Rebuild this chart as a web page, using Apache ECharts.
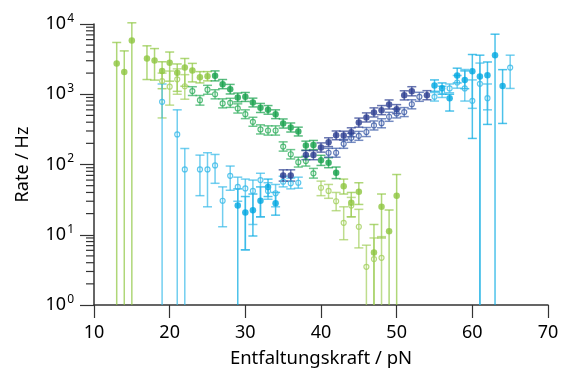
<!DOCTYPE html>
<html>
<head>
<meta charset="utf-8">
<script src="https://cdn.jsdelivr.net/npm/echarts@6/dist/echarts.min.js"></script>
<style>
  html, body { margin: 0; padding: 0; background: #fff; }
  #chart { width: 562px; height: 377px; }
</style>
</head>
<body>
<div id="chart"></div>
<script>
// [force pN, rate Hz, error low, error high]
var lgFilled = [
  [13, 2740, 1, 5460], [14, 2080, 1, 4140], [15, 5820, 1, 10400],
  [17, 3230, 1620, 4890], [18, 3020, 1590, 4470], [19, 2150, 1200, 2900],
  [20, 2800, 1535, 3990], [21, 2020, 1100, 2700], [22, 2400, 1300, 3230],
  [23, 2180, 1500, 2750], [24, 1750, 1450, 2100], [25, 1800, 1550, 2100],
  [43, 49, 38, 62], [44, 28.5, 18, 40], [45, 41, 27, 55],
  [47, 5.6, 1, 14], [48, 25, 9, 38], [49, 11.2, 1, 22.5], [50, 36, 1, 72]
];
var lgOpen = [
  [19, 1540, 460, 2000], [20, 1280, 700, 2140], [21, 1630, 1000, 2300], [22, 1300, 850, 1900],
  [40, 46.7, 36, 58], [41, 42, 33, 52], [42, 30, 22, 40], [43, 14.8, 8.5, 25],
  [44, 26, 18, 34], [45, 13, 6.5, 23], [46, 3.5, 1, 7.1], [47, 4.5, 1, 9], [48, 4.7, 1, 9.4]
];
var mgFilled = [
  [26, 1830, 1550, 2150], [27, 1390, 1200, 1620], [28, 1180, 1010, 1380], [29, 900, 780, 1040],
  [30, 920, 790, 1060], [31, 764, 660, 880], [32, 641, 550, 740], [33, 600, 520, 690],
  [34, 521, 450, 600], [35, 384, 330, 445], [36, 337, 290, 390], [37, 295, 255, 340],
  [38, 187, 160, 215], [39, 190, 163, 220], [40, 115, 97, 135], [41, 106, 90, 125], [42, 76, 63, 92]
];
var mgOpen = [
  [23, 1110, 960, 1280], [24, 823, 700, 960], [25, 1160, 1000, 1340], [26, 1000, 860, 1160],
  [27, 740, 640, 860], [28, 755, 650, 875], [29, 628, 540, 730], [30, 521, 450, 600],
  [31, 405, 350, 470], [32, 316, 272, 367], [33, 305, 262, 355], [34, 305, 262, 355],
  [35, 180, 155, 210], [36, 140, 120, 163], [37, 108, 92, 127], [38, 112, 95, 131], [39, 75, 64, 88]
];
var dbFilled = [
  [35, 70, 58, 84], [36, 70, 58, 84], [38, 136, 117, 158], [39, 136, 117, 158],
  [40, 175, 150, 203], [41, 208, 180, 240], [42, 260, 225, 300], [43, 258, 222, 298],
  [44, 288, 248, 333], [45, 395, 340, 458], [46, 468, 403, 543], [47, 551, 475, 640],
  [48, 594, 512, 690], [49, 716, 617, 830], [50, 614, 530, 712], [51, 965, 830, 1120],
  [52, 1105, 950, 1280], [54, 970, 835, 1125]
];
var dbOpen = [
  [41, 147, 127, 170], [42, 147, 127, 170], [43, 197, 170, 228], [44, 240, 207, 278],
  [45, 256, 221, 296], [46, 290, 250, 336], [47, 360, 310, 417], [48, 387, 333, 448],
  [49, 478, 412, 553], [50, 533, 460, 617], [51, 558, 481, 646], [52, 720, 620, 834],
  [53, 920, 793, 1065]
];
var cyFilled = [
  [29, 26, 1, 45], [30, 20.8, 6.1, 35], [31, 22.4, 9.6, 38], [32, 30.5, 18, 48],
  [33, 48, 35, 62], [34, 28, 19, 40],
  [55, 1335, 1100, 1600], [56, 1220, 1000, 1450], [57, 880, 577, 1000], [58, 1850, 1450, 2350],
  [59, 1600, 1200, 2150], [60, 2130, 235, 3680], [61, 1790, 1, 3600], [62, 1870, 372, 2880],
  [63, 3600, 1, 7160], [64, 1315, 384, 2240]
];
var cyOpen = [
  [19, 780, 1, 1400], [21, 268, 1, 600], [22, 85, 1, 169], [24, 85, 36, 136],
  [25, 85, 25, 147], [26, 97, 54, 139], [27, 30.5, 13, 48], [28, 69, 43, 95],
  [29, 48, 30, 66], [30, 45.7, 6.1, 62], [31, 42, 14, 60], [32, 60, 18, 75],
  [33, 42, 32, 55], [34, 39, 25, 52], [35, 57, 48, 68], [36, 54, 45, 64], [37, 55, 46, 66],
  [55, 920, 800, 1060], [56, 1080, 900, 1300], [57, 1210, 1050, 1400], [58, 1470, 1220, 1850],
  [59, 1210, 800, 2250], [60, 805, 630, 1600], [61, 1406, 1, 2780], [62, 880, 600, 1400],
  [65, 2400, 1210, 3600]
];
var xTicks = [10, 20, 30, 40, 50, 60, 70];
var yDecades = [1, 10, 100, 1000, 10000];

var minorTicks = [];
yDecades.slice(0, 4).forEach(function (d) {
  for (var k = 2; k <= 9; k++) minorTicks.push(d * k);
});

var chart = echarts.init(document.getElementById('chart'));

function errorSeries(data, color, z) {
  return {
    type: 'custom',
    data: data,
    clip: false,
    z: z,
    encode: { x: 0, y: 1 },
    silent: true,
    renderItem: function (params, api) {
      var x = api.value(0);
      var p1 = api.coord([x, api.value(2)]);
      var p2 = api.coord([x, api.value(3)]);
      var w = 4.5;
      var st = { stroke: color, lineWidth: 1.5, opacity: 0.7 };
      var kids = [
        { type: 'line', shape: { x1: p1[0], y1: p1[1], x2: p2[0], y2: p2[1] }, style: st },
        { type: 'line', shape: { x1: p2[0] - w, y1: p2[1], x2: p2[0] + w, y2: p2[1] }, style: st }
      ];
      if (api.value(2) > 1) {
        kids.push({ type: 'line', shape: { x1: p1[0] - w, y1: p1[1], x2: p1[0] + w, y2: p1[1] }, style: st });
      }
      return { type: 'group', children: kids };
    }
  };
}

function markSeries(data, color, filled, z) {
  return {
    type: 'scatter',
    data: data.map(function (d) { return [d[0], d[1]]; }),
    symbol: 'circle',
    symbolSize: filled ? 6.5 : 5,
    z: z,
    itemStyle: filled
      ? { color: color }
      : { color: 'rgba(0,0,0,0)', borderColor: color, borderWidth: 1.2 }
  };
}

var groups = [
  [lgFilled, '#8dc63f', true], [lgOpen, '#a3cf5c', false],
  [mgFilled, '#14a04a', true], [mgOpen, '#2fae5c', false],
  [cyFilled, '#00a8e1', true], [cyOpen, '#35b9e8', false],
  [dbFilled, '#283a8f', true], [dbOpen, '#3a5aa6', false]
];

var series = [];
groups.forEach(function (g, i) {
  series.push(errorSeries(g[0], g[1], 2 + i));
  series.push(markSeries(g[0], g[1], g[2], 12 + i));
});

// small log ticks on the y axis
series.push({
  type: 'custom',
  data: minorTicks.map(function (v) { return [10, v]; }),
  clip: false,
  silent: true,
  z: 30,
  encode: { x: 0, y: 1 },
  renderItem: function (params, api) {
    var p = api.coord([api.value(0), api.value(1)]);
    return {
      type: 'line',
      shape: { x1: p[0] - 8, y1: p[1], x2: p[0], y2: p[1] },
      style: { stroke: '#333', lineWidth: 1.2 }
    };
  }
});

var option = {
  animation: false,
  textStyle: { fontFamily: 'Noto Sans' },
  grid: { left: 94, right: 14, top: 24, bottom: 72 },
  xAxis: {
    type: 'value',
    min: xTicks[0],
    max: xTicks[xTicks.length - 1],
    interval: 10,
    name: 'Entfaltungskraft / pN',
    nameLocation: 'middle',
    nameGap: 44,
    nameTextStyle: { fontSize: 18.5, color: '#000', fontFamily: 'Noto Sans' },
    axisLine: { onZero: false, lineStyle: { color: '#333', width: 1.5 } },
    axisTick: { length: 13, lineStyle: { color: '#333', width: 1.2 } },
    axisLabel: { fontSize: 18, color: '#000', margin: 19, fontFamily: 'Noto Sans' },
    splitLine: { show: false }
  },
  yAxis: {
    type: 'log',
    logBase: 10,
    min: yDecades[0],
    max: yDecades[yDecades.length - 1],
    name: 'Rate / Hz',
    nameLocation: 'middle',
    nameGap: 62,
    nameTextStyle: { fontSize: 18, color: '#000', fontFamily: 'Noto Sans' },
    axisLine: { lineStyle: { color: '#333', width: 1.5 } },
    axisTick: { length: 14, lineStyle: { color: '#333', width: 1.2 } },
    axisLabel: {
      margin: 20,
      formatter: function (v) {
        var e = Math.round(Math.log10(v));
        return '{b|10}{s|' + e + '}';
      },
      rich: {
        b: { fontSize: 18, color: '#000', fontFamily: 'Noto Sans' },
        s: { fontSize: 12, color: '#000', fontFamily: 'Noto Sans', verticalAlign: 'bottom', padding: [0, 0, 11, 1] }
      }
    },
    splitLine: { show: false }
  },
  series: series
};

chart.setOption(option);
</script>
</body>
</html>
